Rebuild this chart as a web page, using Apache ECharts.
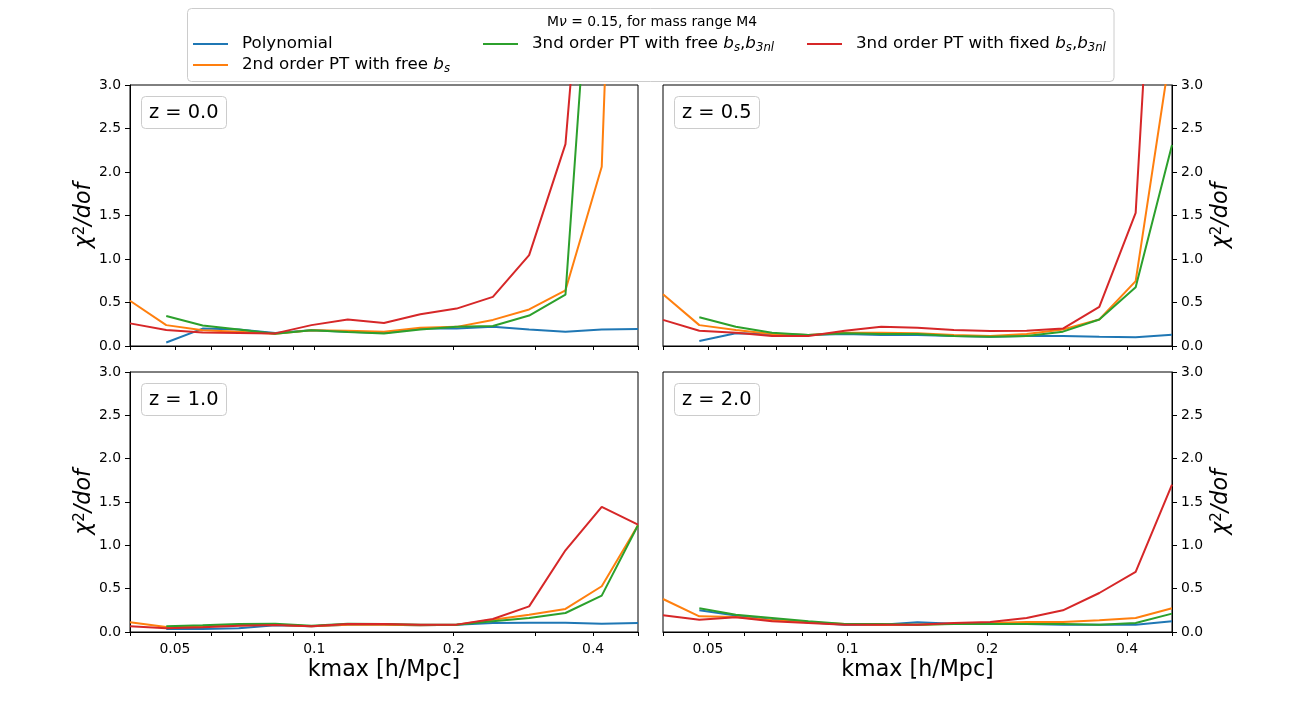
<!DOCTYPE html>
<html>
<head>
<meta charset="utf-8">
<script src="https://cdn.jsdelivr.net/npm/echarts@6/dist/echarts.min.js"></script>
<style>
  html, body { margin: 0; padding: 0; background: #fff; }
  #chart { width: 1301px; height: 710px; }
</style>
</head>
<body>
<div id="chart"></div>
<script>
// kmax sampling (h/Mpc), shared by every panel
const kmax = [0.04, 0.0479, 0.0574, 0.0687, 0.0823, 0.0986, 0.1181, 0.1414, 0.1694, 0.2029, 0.2430, 0.2910, 0.3486, 0.4175, 0.5];
const xLabelTicks = [0.05, 0.1, 0.2, 0.4];
const xAllTicks = [0.04, 0.05, 0.06, 0.07, 0.08, 0.09, 0.1, 0.2, 0.3, 0.4, 0.5];

const modelNames = ['Polynomial', '2nd order PT with free bs', '3nd order PT with free bs,b3nl', '3nd order PT with fixed bs,b3nl'];
const panelLabels = ['z = 0.0', 'z = 0.5', 'z = 1.0', 'z = 2.0'];

// chi2/dof, z = 0.0
const poly_z00 = [null, 0.04, 0.20, 0.19, 0.15, 0.18, 0.165, 0.15, 0.20, 0.20, 0.22, 0.19, 0.165, 0.19, 0.195];
const pt2_z00 = [0.52, 0.24, 0.18, 0.165, 0.14, 0.18, 0.175, 0.165, 0.21, 0.22, 0.30, 0.42, 0.64, 2.06, 13.5];
const pt3free_z00 = [null, 0.345, 0.235, 0.19, 0.14, 0.18, 0.16, 0.145, 0.19, 0.22, 0.23, 0.35, 0.59, 6.5, 8.0];
const pt3fixed_z00 = [0.26, 0.185, 0.155, 0.15, 0.145, 0.24, 0.305, 0.265, 0.365, 0.43, 0.565, 1.045, 2.32, 7.3, 9.0];

// chi2/dof, z = 0.5
const poly_z05 = [null, 0.057, 0.146, 0.138, 0.126, 0.138, 0.126, 0.126, 0.115, 0.107, 0.115, 0.115, 0.107, 0.10, 0.13];
const pt2_z05 = [0.595, 0.24, 0.185, 0.138, 0.126, 0.153, 0.153, 0.146, 0.126, 0.115, 0.138, 0.19, 0.305, 0.745, 3.5];
const pt3free_z05 = [null, 0.33, 0.222, 0.153, 0.126, 0.146, 0.138, 0.138, 0.115, 0.107, 0.115, 0.165, 0.305, 0.675, 2.31];
const pt3fixed_z05 = [0.30, 0.176, 0.153, 0.115, 0.115, 0.176, 0.222, 0.21, 0.184, 0.172, 0.176, 0.20, 0.45, 1.53, 8.7];

// chi2/dof, z = 1.0
const poly_z10 = [null, 0.035, 0.035, 0.042, 0.077, 0.065, 0.085, 0.085, 0.077, 0.085, 0.104, 0.108, 0.108, 0.096, 0.104];
const pt2_z10 = [0.112, 0.058, 0.065, 0.077, 0.085, 0.065, 0.085, 0.085, 0.077, 0.085, 0.142, 0.20, 0.266, 0.528, 1.232];
const pt3free_z10 = [null, 0.065, 0.077, 0.092, 0.096, 0.073, 0.096, 0.092, 0.085, 0.085, 0.123, 0.162, 0.219, 0.42, 1.232];
const pt3fixed_z10 = [0.065, 0.042, 0.054, 0.073, 0.081, 0.065, 0.092, 0.092, 0.085, 0.085, 0.15, 0.296, 0.943, 1.444, 1.24];

// chi2/dof, z = 2.0
const poly_z20 = [null, 0.25, 0.189, 0.142, 0.112, 0.085, 0.085, 0.112, 0.096, 0.092, 0.092, 0.085, 0.085, 0.085, 0.123];
const pt2_z20 = [0.381, 0.181, 0.173, 0.135, 0.112, 0.092, 0.085, 0.085, 0.096, 0.104, 0.116, 0.116, 0.135, 0.162, 0.273];
const pt3free_z20 = [null, 0.273, 0.20, 0.162, 0.123, 0.092, 0.092, 0.085, 0.092, 0.092, 0.092, 0.092, 0.085, 0.104, 0.212];
const pt3fixed_z20 = [0.193, 0.142, 0.169, 0.123, 0.104, 0.085, 0.085, 0.085, 0.104, 0.116, 0.162, 0.25, 0.45, 0.693, 1.70];

const COLORS = ['#1f77b4', '#ff7f0e', '#2ca02c', '#d62728'];
const FONT = 'DejaVu Sans';
const FRAME = '#cccccc';

const panels = [
  {grid: {left: 130, top: 85, width: 508, height: 261}, side: 'left', showX: false,
    data: [poly_z00, pt2_z00, pt3free_z00, pt3fixed_z00]},
  {grid: {left: 663, top: 85, width: 509, height: 261}, side: 'right', showX: false,
    data: [poly_z05, pt2_z05, pt3free_z05, pt3fixed_z05]},
  {grid: {left: 130, top: 372, width: 508, height: 260}, side: 'left', showX: true,
    data: [poly_z10, pt2_z10, pt3free_z10, pt3fixed_z10]},
  {grid: {left: 663, top: 372, width: 509, height: 260}, side: 'right', showX: true,
    data: [poly_z20, pt2_z20, pt3free_z20, pt3fixed_z20]},
];

// mathtext-ish labels
const legendText = {
  'Polynomial': 'Polynomial',
  '2nd order PT with free bs': '2nd order PT with free {i|b}{sub|s}',
  '3nd order PT with free bs,b3nl': '3nd order PT with free {i|b}{sub|s},{i|b}{sub|3nl}',
  '3nd order PT with fixed bs,b3nl': '3nd order PT with fixed {i|b}{sub|s},{i|b}{sub|3nl}',
};
const legendPos = [[193, 34], [193, 55], [483, 34], [807, 34]];

const axisColor = '#000';
const labelStyle = {fontFamily: FONT, fontSize: 13.9, color: '#000'};

const grid = panels.map(p => Object.assign({show: true, borderColor: axisColor, borderWidth: 1}, p.grid));

const xAxis = panels.map((p, i) => ({
  gridIndex: i,
  type: 'log',
  logBase: 10,
  min: 0.04,
  max: 0.5,
  name: p.showX ? 'kmax [h/Mpc]' : '',
  nameLocation: 'middle',
  nameGap: 27,
  nameTextStyle: {fontFamily: FONT, fontSize: 22.2, color: '#000'},
  axisLine: {show: true, lineStyle: {color: axisColor, width: 1}},
  axisTick: {show: true, length: 4, customValues: xAllTicks, lineStyle: {color: axisColor}},
  axisLabel: Object.assign({show: p.showX, margin: 10, customValues: xLabelTicks,
    formatter: v => String(+(+v).toPrecision(2))}, labelStyle),
  splitLine: {show: false},
  minorTick: {show: false},
}));

const yAxis = panels.map((p, i) => ({
  gridIndex: i,
  type: 'value',
  position: p.side,
  min: 0,
  max: 3,
  interval: 0.5,
  name: '{i|χ}{sup|2}{i|/dof}',
  nameLocation: 'middle',
  nameRotate: 90,
  nameGap: p.side === 'left' ? 34 : 38,
  nameTextStyle: {
    rich: {
      i: {fontFamily: FONT, fontStyle: 'italic', fontSize: 22.2, color: '#000'},
      sup: {fontFamily: FONT, fontSize: 15, color: '#000', verticalAlign: 'top', padding: [0, 0, 8, 0]},
    },
  },
  axisLine: {show: true, lineStyle: {color: axisColor, width: 1}},
  axisTick: {show: true, length: 5, lineStyle: {color: axisColor}},
  axisLabel: Object.assign({margin: 9, formatter: v => v.toFixed(1)}, labelStyle),
  splitLine: {show: false},
}));

const series = [];
panels.forEach((p, pi) => {
  p.data.forEach((vals, si) => {
    series.push({
      name: modelNames[si],
      type: 'line',
      xAxisIndex: pi,
      yAxisIndex: pi,
      showSymbol: false,
      symbol: 'none',
      clip: true,
      color: COLORS[si],
      lineStyle: {width: 2, color: COLORS[si]},
      data: vals.map((v, k) => [kmax[k], v]),
    });
  });
});

const legend = modelNames.map((name, i) => ({
  data: [name],
  left: legendPos[i][0],
  top: legendPos[i][1],
  padding: 0,
  icon: 'rect',
  itemWidth: 35,
  itemHeight: 2,
  selectedMode: false,
  formatter: n => legendText[n],
  textStyle: {
    fontFamily: FONT, fontSize: 16.7, color: '#000', lineHeight: 20, padding: [0, 0, 0, 9],
    rich: {
      i: {fontFamily: FONT, fontStyle: 'italic', fontSize: 16.7, color: '#000', lineHeight: 20},
      sub: {fontFamily: FONT, fontStyle: 'italic', fontSize: 11.7, color: '#000', lineHeight: 20,
        verticalAlign: 'bottom', padding: [8, 0, 0, 0]},
    },
  },
}));

const title = [{
  text: 'M{i|ν} = 0.15, for mass range M4',
  left: 652,
  top: 15,
  textAlign: 'center',
  padding: 0,
  textStyle: {
    fontFamily: FONT, fontSize: 13.9, fontWeight: 'normal', color: '#000',
    rich: {i: {fontFamily: FONT, fontStyle: 'italic', fontSize: 13.9, color: '#000'}},
  },
}].concat(panels.map((p, i) => ({
  text: panelLabels[i],
  left: p.grid.left + 11,
  top: p.grid.top + 11,
  padding: [6, 8, 6, 8],
  borderColor: FRAME,
  borderWidth: 1,
  borderRadius: 4,
  backgroundColor: '#fff',
  textStyle: {fontFamily: FONT, fontSize: 19.4, fontWeight: 'normal', color: '#000', lineHeight: 21},
})));

const chart = echarts.init(document.getElementById('chart'));
chart.setOption({
  animation: false,
  backgroundColor: '#fff',
  title,
  legend,
  grid,
  xAxis,
  yAxis,
  series,
  graphic: [{
    type: 'rect',
    z: 0,
    shape: {x: 187.5, y: 8.5, width: 926.5, height: 73, r: 4},
    style: {fill: '#fff', stroke: FRAME, lineWidth: 1},
  }],
});
</script>
</body>
</html>
